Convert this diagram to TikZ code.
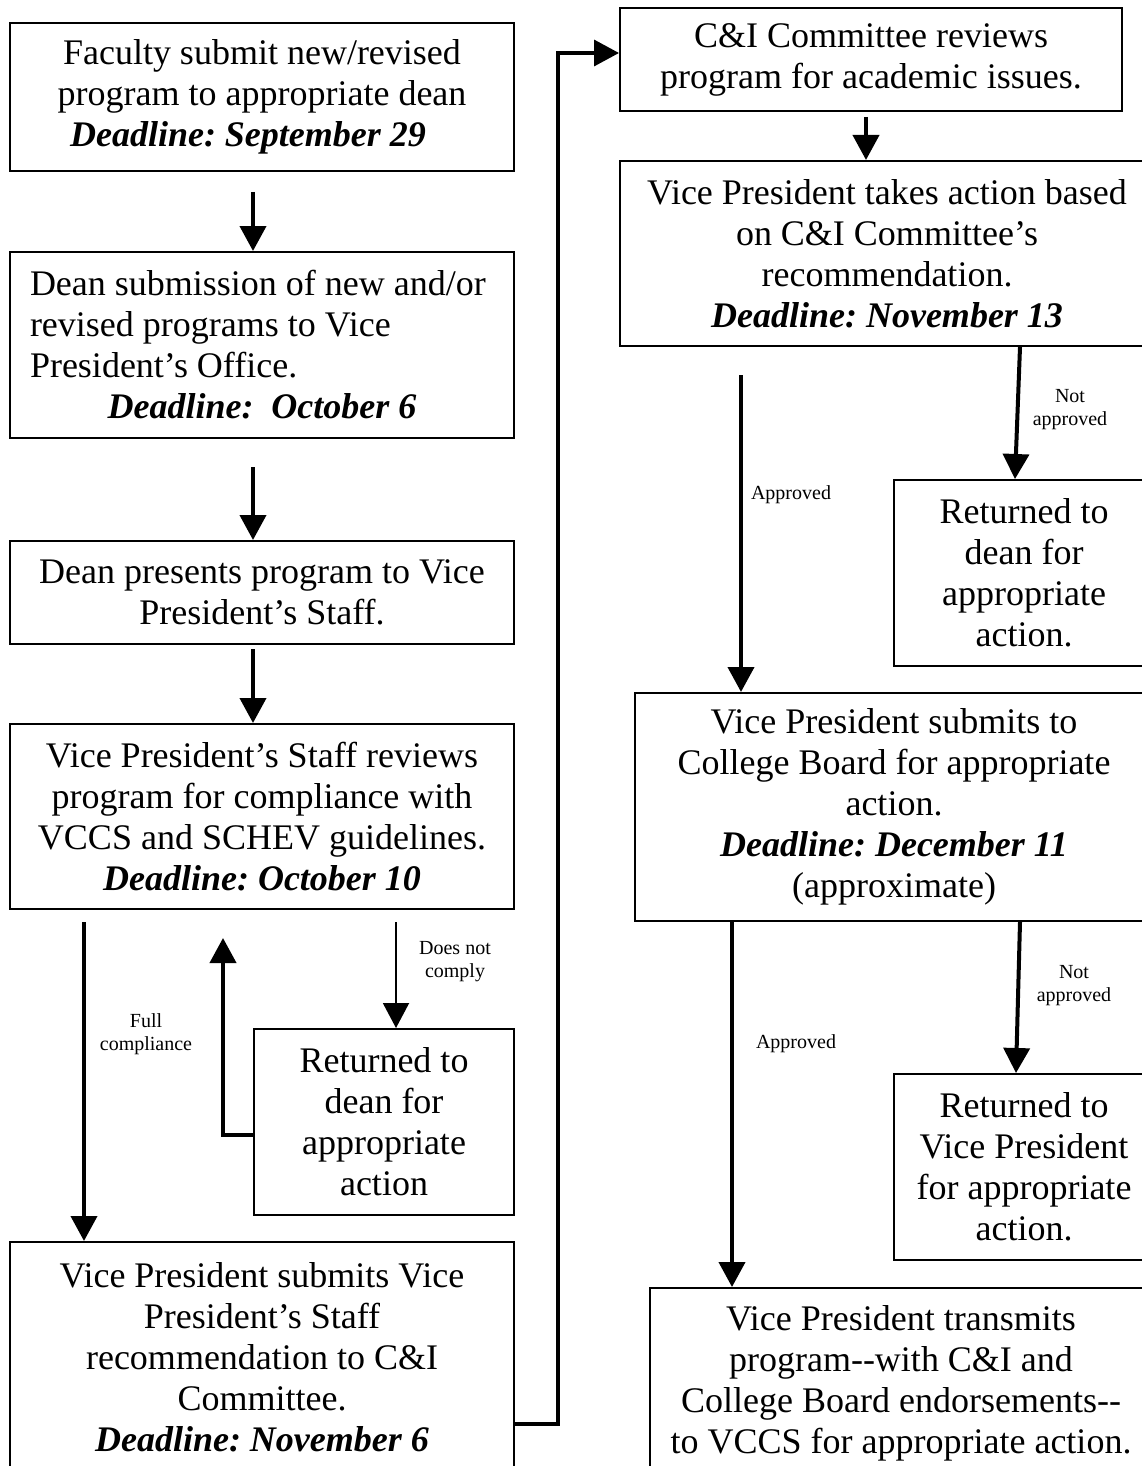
\documentclass[tikz,border=0pt]{standalone}
\usepackage{fontspec}
\setmainfont{Liberation Serif}
\usetikzlibrary{arrows.meta}
\frenchspacing
\newcommand\ddline[1]{\textbf{\textit{#1}}}
\begin{document}
\begin{tikzpicture}[x=1pt,y=-1pt,
  box/.style={draw, line width=2pt, anchor=north west, inner sep=0pt, align=center,
    font=\fontsize{36pt}{41pt}\selectfont},
  lbl/.style={align=center, inner sep=0pt, font=\fontsize{20pt}{23pt}\selectfont},
  arr/.style={line width=4pt, -{Triangle[width=26pt,length=25pt]}},
  thinarr/.style={line width=2pt, -{Triangle[width=26pt,length=25pt]}},
  link/.style={line width=3.5pt, -{Triangle[width=26pt,length=25pt]}}]
\useasboundingbox (0,0) rectangle (1142,1466);
\clip (0,0) rectangle (1142,1466);

% left column
\node[box, minimum width=504pt, minimum height=148pt] (b1) at (9,22)
  {Faculty submit new/revised\\program to appropriate dean\\\ddline{Deadline: September 29}\hspace*{28pt}};
\node[box, align=left, minimum width=504pt, minimum height=186pt] (b2) at (9,251)
  {Dean submission of new and/or\\revised programs to Vice\\President’s Office.\\\makebox[464pt][c]{\ddline{Deadline:\ \ October 6}}};
\node[box, minimum width=504pt, minimum height=103pt] (b3) at (9,540)
  {Dean presents program to Vice\\President’s Staff.};
\node[box, minimum width=504pt, minimum height=185pt] (b4) at (9,723)
  {Vice President’s Staff reviews\\program for compliance with\\VCCS and SCHEV guidelines.\\\ddline{Deadline: October 10}};
\node[box, minimum width=260pt, minimum height=186pt] (ret1) at (253,1028)
  {Returned to\\dean for\\appropriate\\action};
\node[box, minimum width=504pt, minimum height=230pt] (b5) at (9,1241)
  {Vice President submits Vice\\President’s Staff\\recommendation to C\&I\\Committee.\\\ddline{Deadline: November 6}};

% right column
\node[box, minimum width=502pt, minimum height=103pt] (b6) at (619,7)
  {C\&I Committee reviews\\program for academic issues.};
\node[box, minimum width=534pt, minimum height=185pt] (b7) at (619,160)
  {Vice President takes action based\\on C\&I Committee’s\\recommendation.\\\ddline{Deadline: November 13}};
\node[box, minimum width=260pt, minimum height=186pt] (b8) at (893,479)
  {Returned to\\dean for\\appropriate\\action.};
\node[box, minimum width=518pt, minimum height=228pt] (b9) at (634,692)
  {Vice President submits to\\College Board for appropriate\\action.\\\ddline{Deadline: December 11}\\(approximate)};
\node[box, minimum width=260pt, minimum height=186pt] (b10) at (893,1073)
  {Returned to\\Vice President\\for appropriate\\action.};
\node[box, minimum width=502pt, minimum height=190pt] (b11) at (649,1287)
  {Vice President transmits\\program\mbox{-}\mbox{-}with C\&I and\\College Board endorsements\mbox{-}\mbox{-}\\to VCCS for appropriate action.};

% left connectors
\draw[arr] ([xshift=244pt,yshift=-20pt]b1.south west) -- ([xshift=244pt]b2.north west);
\draw[arr] ([xshift=244pt,yshift=-28pt]b2.south west) -- ([xshift=244pt]b3.north west);
\draw[arr] ([xshift=244pt,yshift=-4pt]b3.south west) -- ([xshift=244pt]b4.north west);
\draw[arr] ([xshift=75pt,yshift=-12pt]b4.south west) -- ([xshift=75pt]b5.north west);
\draw[thinarr] ([xshift=387pt,yshift=-12pt]b4.south west) -- ([xshift=143pt]ret1.north west);
\coordinate (r1) at (223,1135);
\coordinate (r2) at (223,938);
\draw[arr] (r1 -| ret1.west) -- (r1) -- (r2);
\coordinate (j1) at (558,1424);
\coordinate (j2) at (558,53);
\draw[link] (j1 -| b5.east) -- (j1) -- (j2) -- (j2 -| b6.west);

% right connectors
\draw[arr] ([xshift=247pt,yshift=-5pt]b6.south west) -- ([xshift=247pt]b7.north west);
\draw[arr] ([xshift=122pt,yshift=-28pt]b7.south west) -- ([xshift=107pt]b9.north west);
\draw[arr] ([xshift=401pt]b7.south west) -- ([xshift=122pt]b8.north west);
\draw[arr] ([xshift=98pt]b9.south west) -- ([xshift=83pt]b11.north west);
\draw[arr] ([xshift=386pt]b9.south west) -- ([xshift=123pt]b10.north west);

% labels
\node[lbl] (l1) at (146,1034) {Full\\compliance};
\node[lbl] (l2) at (455,962) {Does not\\comply};
\node[lbl] (l3) at (791,495) {Approved};
\node[lbl] (l4) at (1070,410) {Not\\approved};
\node[lbl] (l5) at (796,1044) {Approved};
\node[lbl] (l6) at (1074,986) {Not\\approved};
\end{tikzpicture}
\end{document}
